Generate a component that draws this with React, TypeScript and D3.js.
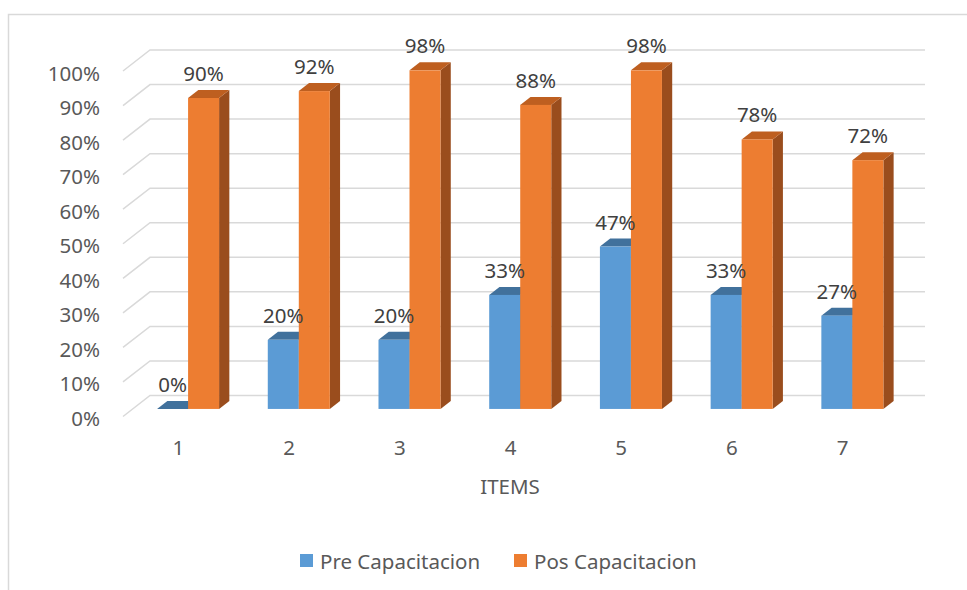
import React from 'react';
import * as d3 from 'd3';

// datos del gráfico
const categories = ['1', '2', '3', '4', '5', '6', '7'];
const seriesNames = ['Pre Capacitacion', 'Pos Capacitacion'];
const preValues = [0, 0.2, 0.2, 0.33, 0.47, 0.33, 0.27];
const posValues = [0.9, 0.92, 0.98, 0.88, 0.98, 0.78, 0.72];
const tickValues = [0, 0.1, 0.2, 0.3, 0.4, 0.5, 0.6, 0.7, 0.8, 0.9, 1];

const W = 967;
const H = 590;
const FONT = '"Noto Sans", sans-serif';
const FS = 20.5;

// colores: frente, tapa, lateral
const palette = [
  { front: '#5B9BD5', top: '#41719C', side: '#3A6690' },
  { front: '#ED7D31', top: '#BE5F20', side: '#9A4D1D' },
];

export default function App() {
  // profundidad 3D del piso
  const depth = { x: 27, y: -21 };
  const fFront = 0.36;
  const fBack = 0.74;

  const x = d3.scaleBand<string>().domain(categories).range([123, 898]);
  const inner = d3
    .scaleBand<string>()
    .domain(seriesNames)
    .range([0, x.bandwidth()])
    .paddingOuter(0.785);
  const y = d3.scaleLinear().domain([0, 1]).range([416.5, 71]);
  const fmt = d3.format('.0%');

  const data = [preValues, posValues];

  const bx = depth.x * fFront;
  const by = depth.y * fFront;
  const dx = depth.x * (fBack - fFront);
  const dy = depth.y * (fBack - fFront);

  const bars: React.ReactNode[] = [];
  const labels: React.ReactNode[] = [];
  categories.forEach((c, i) => {
    seriesNames.forEach((s, k) => {
      const v = data[k][i];
      const x0 = (x(c) ?? 0) + (inner(s) ?? 0) + bx;
      const x1 = x0 + inner.bandwidth();
      const yb = y(0) + by;
      const yt = y(v) + by;
      const col = palette[k];
      const topPts = [
        [x0, yt],
        [x1, yt],
        [x1 + dx, yt + dy],
        [x0 + dx, yt + dy],
      ];
      const sidePts = [
        [x1, yt],
        [x1 + dx, yt + dy],
        [x1 + dx, yb + dy],
        [x1, yb],
      ];
      bars.push(
        <g key={`${c}-${s}`}>
          <polygon points={sidePts.map((p) => p.join(',')).join(' ')} fill={col.side} />
          <polygon points={topPts.map((p) => p.join(',')).join(' ')} fill={col.top} />
          {v > 0 && (
            <rect x={x0} y={yt} width={inner.bandwidth()} height={yb - yt} fill={col.front} />
          )}
        </g>
      );
      labels.push(
        <text
          key={`l-${c}-${s}`}
          x={(x0 + x1) / 2}
          y={yt - 25}
          textAnchor="middle"
          dominantBaseline="central"
          fontSize={FS}
          fill="#404040"
        >
          {fmt(v)}
        </text>
      );
    });
  });

  const gx0 = x.range()[0];
  const gx1 = x.range()[1] + depth.x;

  return (
    <div style={{ position: 'absolute', left: 0, top: 0 }}>
      <svg width={W} height={H} style={{ display: 'block', fontFamily: FONT }}>
        <rect x={0} y={0} width={W} height={H} fill="#fff" />
        <path d={`M8.5,${H + 5}V14.5H${W + 5}`} fill="none" stroke="#d9d9d9" strokeWidth={1.5} />

        {/* líneas de cuadrícula */}
        {tickValues.map((t) => (
          <path
            key={`g-${t}`}
            d={`M${gx0},${y(t)}L${gx0 + depth.x},${y(t) + depth.y}H${gx1}`}
            fill="none"
            stroke="#d9d9d9"
            strokeWidth={1.5}
          />
        ))}

        {/* eje Y */}
        {tickValues.map((t) => (
          <text
            key={`t-${t}`}
            x={100}
            y={y(t) + 1.5}
            textAnchor="end"
            dominantBaseline="central"
            fontSize={FS}
            fill="#595959"
          >
            {fmt(t)}
          </text>
        ))}

        {bars}
        {labels}

        {/* eje X */}
        {categories.map((c) => (
          <text
            key={`c-${c}`}
            x={(x(c) ?? 0) + x.bandwidth() / 2}
            y={447}
            textAnchor="middle"
            dominantBaseline="central"
            fontSize={FS}
            fill="#595959"
          >
            {c}
          </text>
        ))}
        <text x={510} y={486} textAnchor="middle" dominantBaseline="central" fontSize={FS} fill="#595959">
          ITEMS
        </text>

        {/* leyenda */}
        {seriesNames.map((s, k) => {
          const lx = k === 0 ? 300 : 514;
          return (
            <g key={`leg-${s}`}>
              <rect x={lx} y={554} width={13} height={13} fill={palette[k].front} />
              <text x={lx + 20} y={561} dominantBaseline="central" fontSize={FS} fill="#595959">
                {s}
              </text>
            </g>
          );
        })}
      </svg>
    </div>
  );
}
